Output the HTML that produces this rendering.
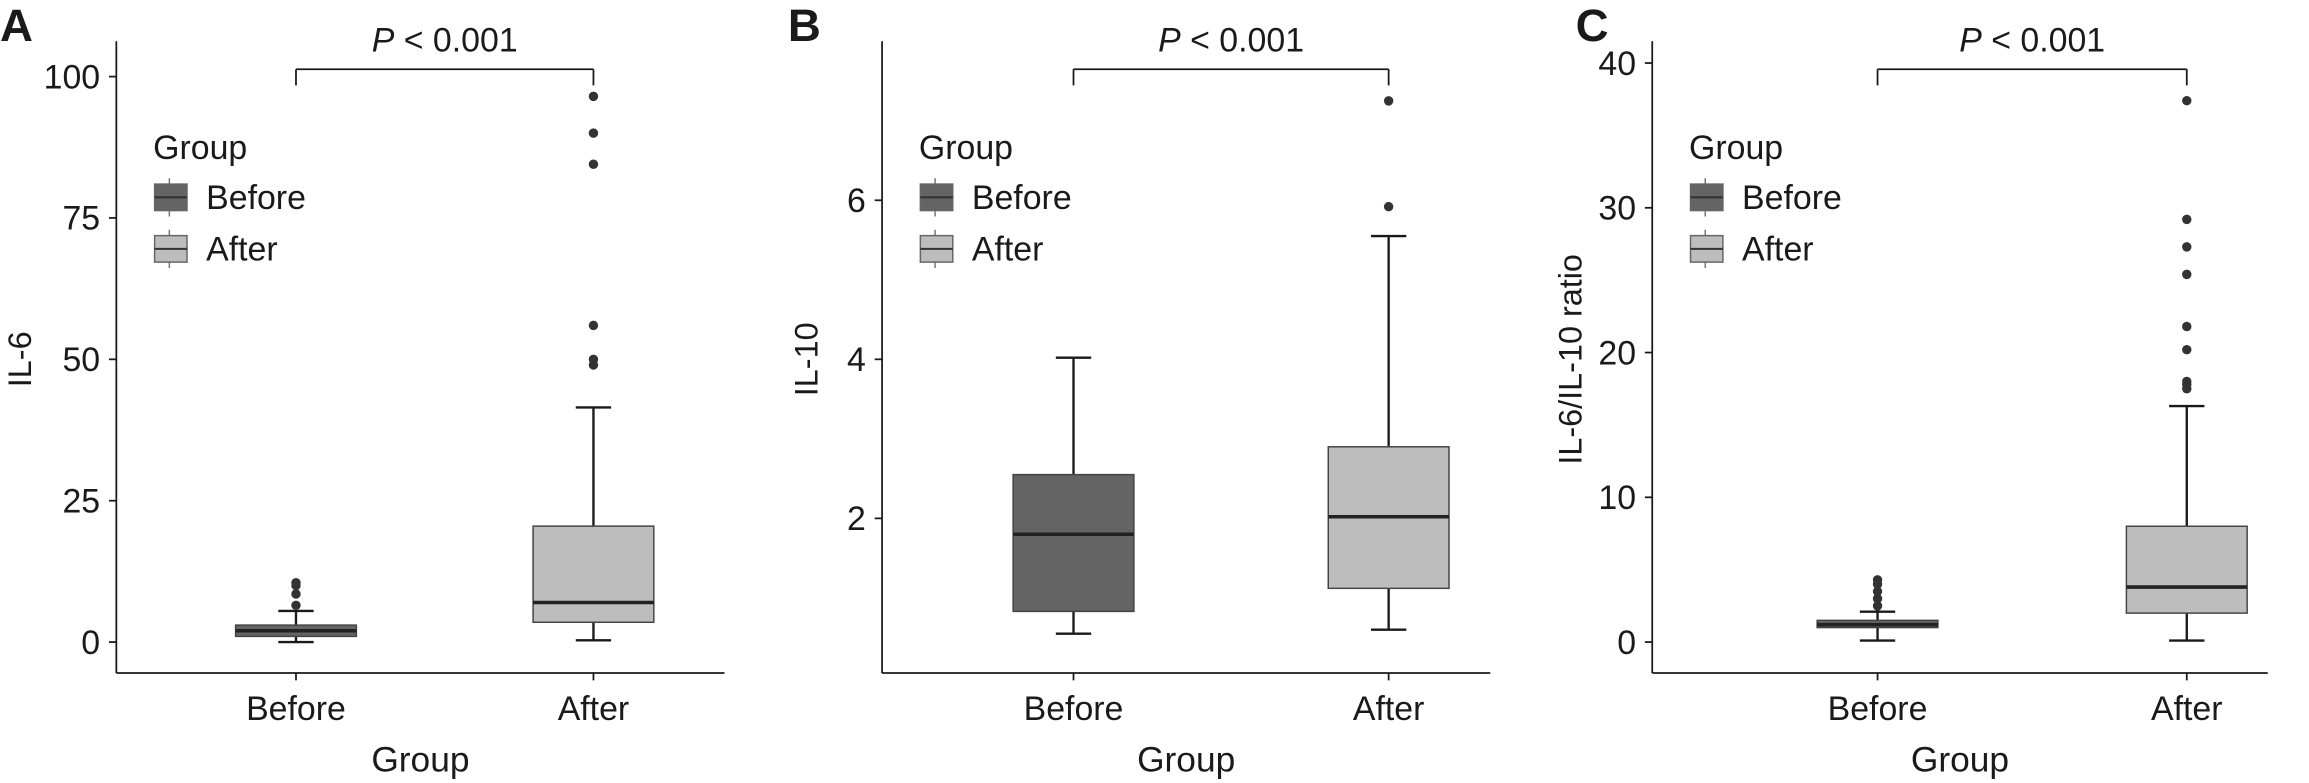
<!DOCTYPE html>
<html><head><meta charset="utf-8"><style>
html,body{margin:0;padding:0;background:#fff;}
svg{display:block;}
text{font-family:"Liberation Sans","DejaVu Sans",sans-serif;fill:#1a1a1a;}
</style></head><body>
<svg id="s" width="2309" height="783" viewBox="0 0 1568 531.7" xmlns="http://www.w3.org/2000/svg"></svg>
<script>
var s=document.getElementById('s'),h='';
function L(x1,y1,x2,y2,w,c){h+='<line x1="'+x1+'" y1="'+y1+'" x2="'+x2+'" y2="'+y2+'" stroke="'+(c||'#1a1a1a')+'" stroke-width="'+(w||1.2)+'"/>';}
function T(x,y,t,sz,a,extra){h+='<text x="'+x+'" y="'+y+'" font-size="'+sz+'" text-anchor="'+(a||'start')+'" '+(extra||'')+'>'+t+'</text>';}
function box(cx,f,q1,med,q3,lo,hi,outs,fill){
 var w=41;
 L(cx,f(q3),cx,f(hi),1.6);L(cx,f(q1),cx,f(lo),1.6);
 L(cx-12,f(hi),cx+12,f(hi),1.6);L(cx-12,f(lo),cx+12,f(lo),1.6);
 h+='<rect x="'+(cx-w)+'" y="'+f(q3)+'" width="'+(2*w)+'" height="'+(f(q1)-f(q3))+'" fill="'+fill+'" stroke="#444" stroke-width="1"/>';
 L(cx-w,f(med),cx+w,f(med),2.4,'#222');
 outs.forEach(function(v){h+='<circle cx="'+cx+'" cy="'+f(v)+'" r="3.2" fill="#333"/>';});
}
function panel(o){
 var ax=o.ax,r=o.r;
 L(ax,28,ax,457,1.2);L(ax,457,r,457,1.2);
 o.ticks.forEach(function(t){var y=o.f(t);L(ax-5,y,ax,y,1.2);T(ax-11,y+8,t,23,'end');});
 [o.b1,o.b2].forEach(function(x){L(x,457,x,462,1.2);});
 T(o.b1,489,'Before',23,'middle');T(o.b2,489,'After',23,'middle');
 T((ax+r)/2,524,'Group',24,'middle');
 T(0,0,o.yt,22,'middle','transform="translate('+o.ytx+',244) rotate(-90)"');
 T(o.lab,28,o.letter,31,'start','font-weight="bold"');
 L(o.b1,47,o.b2,47,1.2);L(o.b1,47,o.b1,58,1.2);L(o.b2,47,o.b2,58,1.2);
 h+='<text x="'+((o.b1+o.b2)/2)+'" y="35" font-size="23" text-anchor="middle"><tspan font-style="italic">P</tspan> &lt; 0.001</text>';
 var lx=ax+25;
 T(lx,108,'Group',23);
 [[125,'#646464','Before'],[160,'#bdbdbd','After']].forEach(function(k){
  L(lx+11,k[0]-4,lx+11,k[0]+22,1,'#777');
  h+='<rect x="'+(lx+1)+'" y="'+k[0]+'" width="22" height="18" fill="'+k[1]+'" stroke="#666" stroke-width="1"/>';
  L(lx+1,k[0]+9,lx+23,k[0]+9,1.4,'#333');
  T(lx+36,k[0]+17,k[2],23);
 });
 o.boxes(o.f);
}
panel({ax:79,r:492,b1:201,b2:403,ticks:[0,25,50,75,100],f:function(v){return 436-v*3.84},yt:'IL-6',ytx:21,lab:0,letter:'A',
 boxes:function(f){box(201,f,1,2,3,0,5.5,[10.5,10,8.5,6.5],'#646464');box(403,f,3.5,7,20.5,0.3,41.5,[96.5,90,84.5,56,50,49],'#bdbdbd');}});
panel({ax:599,r:1012,b1:729,b2:943,ticks:[2,4,6],f:function(v){return 460-v*54},yt:'IL-10',ytx:555,lab:535,letter:'B',
 boxes:function(f){box(729,f,0.83,1.8,2.55,0.55,4.02,[],'#646464');box(943,f,1.12,2.02,2.9,0.6,5.55,[7.25,5.92],'#bdbdbd');}});
panel({ax:1122,r:1540,b1:1275,b2:1485,ticks:[0,10,20,30,40],f:function(v){return 436-v*9.83},yt:'IL-6/IL-10 ratio',ytx:1074,lab:1070,letter:'C',
 boxes:function(f){box(1275,f,1.0,1.2,1.5,0.1,2.1,[2.5,3,3.5,4,4.3],'#646464');box(1485,f,2.0,3.8,8.0,0.1,16.3,[17.5,17.8,18,20.2,21.8,25.4,27.3,29.2,37.4],'#bdbdbd');}});
s.innerHTML=h;
</script>
</body></html>
